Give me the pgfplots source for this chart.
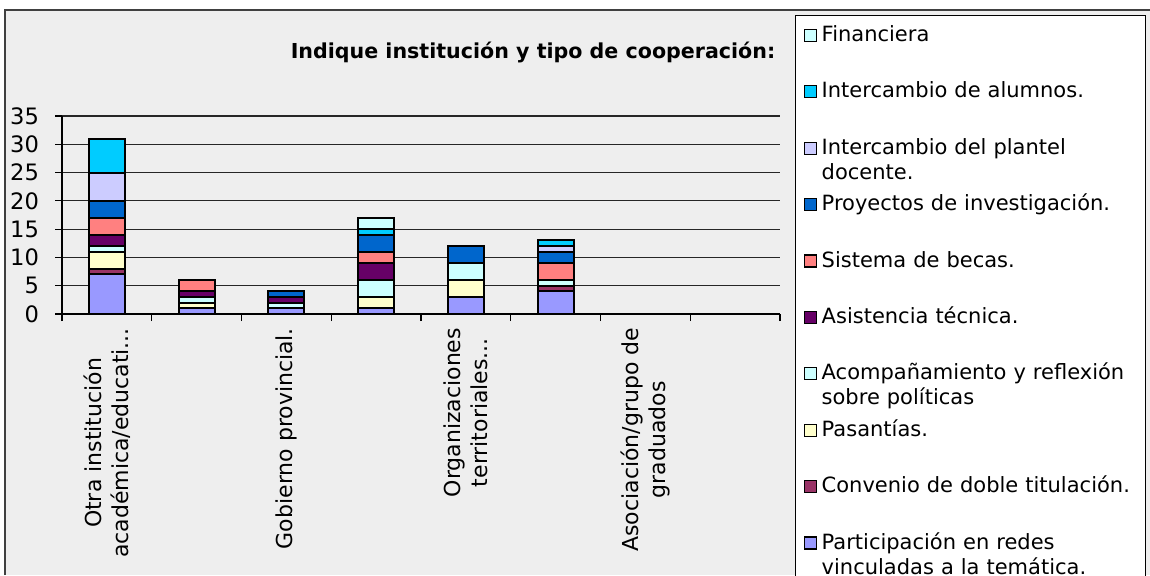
\documentclass[border=0pt]{standalone}
\usepackage{fontspec}
\setmainfont{DejaVu Sans}
\usepackage{pgfplots}
\pgfplotsset{compat=1.18}
\definecolor{bg}{HTML}{EEEEEE}
\definecolor{cPart}{HTML}{9999FF}
\definecolor{cConv}{HTML}{993366}
\definecolor{cPas}{HTML}{FFFFCC}
\definecolor{cAcom}{HTML}{CCFFFF}
\definecolor{cAsis}{HTML}{660066}
\definecolor{cBec}{HTML}{FF8080}
\definecolor{cProy}{HTML}{0066CC}
\definecolor{cPlan}{HTML}{CCCCFF}
\definecolor{cAlum}{HTML}{00CCFF}
\definecolor{cFin}{HTML}{CCFFFF}
\newcommand{\dd}{.\kern0pt.\kern0pt.}
\begin{document}
\begin{tikzpicture}
\fill[white] (0,0) rectangle (575pt,287.5pt);
\fill[bg] (2.5pt,0) rectangle (575pt,282.5pt);
\draw[black!75, line width=0.6pt] (2.5pt,0) -- (2.5pt,282.5pt) -- (575pt,282.5pt);
\node[anchor=base, font=\bfseries\fontsize{10.3}{12}\selectfont] at (266.5pt,258.5pt) {Indique institución y tipo de cooperación:};
\begin{axis}[
  at={(31pt,130.5pt)}, anchor=south west,
  width=359pt, height=99pt, scale only axis,
  xmin=-0.5, xmax=7.5, ymin=0, ymax=35,
  ybar stacked, bar width=18pt,
  axis lines*=left,
  axis line style={black, line width=0.7pt},
  ytick={0,5,10,15,20,25,30,35},
  ymajorgrids, grid style={black!85, line width=0.6pt},
  xtick={-0.5,0.5,1.5,2.5,3.5,4.5,5.5,6.5,7.5},
  xticklabels={{Otra institución\\académica/educati\dd},{},{Gobierno provincial.},{},{Organizaciones\\territoriales\dd},{},{Asociación/grupo de\\graduados},{},{}},
  tick align=outside, major tick length=3.5pt,
  tick style={black, line width=0.6pt},
  /pgf/number format/assume math mode=true,
  yticklabel style={font=\fontsize{11.3}{13}\selectfont, xshift=-4.5pt},
  xticklabel style={xshift=22.4375pt, rotate=90, anchor=east, align=center, font=\fontsize{11}{13.5}\selectfont},
  every axis plot/.append style={draw=black, line width=1pt},
  reverse legend,
  legend image code/.code={\draw[#1, draw=black, line width=0.6pt] (0pt,1.2pt) rectangle (6pt,7.2pt);},
  legend style={at={(1.02089,1.51010)}, anchor=north west, draw=black, line width=0.5pt, fill=white,
    inner xsep=4pt, inner ysep=0pt, row sep=0pt, column sep=2.5pt,
    font=\fontsize{10.5}{12.5}\selectfont,
    nodes={inner sep=0pt, text width=158pt, align=left, text height=13pt, text depth=15.2pt}},
]
\addplot[fill=cPart] coordinates {(0,7) (1,1) (2,1) (3,1) (4,3) (5,4)};
\addlegendentry{Participación en redes\\vinculadas a la temática.}
\addplot[fill=cConv] coordinates {(0,1) (1,0) (2,0) (3,0) (4,0) (5,1)};
\addlegendentry{\mbox{Convenio de doble titulación.}}
\addplot[fill=cPas] coordinates {(0,3) (1,1) (2,0) (3,2) (4,3) (5,0)};
\addlegendentry{Pasantías.}
\addplot[fill=cAcom] coordinates {(0,1) (1,1) (2,1) (3,3) (4,3) (5,1)};
\addlegendentry{\mbox{Acompañamiento y reflexión}\\sobre políticas}
\addplot[fill=cAsis] coordinates {(0,2) (1,1) (2,1) (3,3) (4,0) (5,0)};
\addlegendentry{Asistencia técnica.}
\addplot[fill=cBec] coordinates {(0,3) (1,2) (2,0) (3,2) (4,0) (5,3)};
\addlegendentry{Sistema de becas.}
\addplot[fill=cProy] coordinates {(0,3) (1,0) (2,1) (3,3) (4,3) (5,2)};
\addlegendentry{\mbox{Proyectos de investigación.}}
\addplot[fill=cPlan] coordinates {(0,5) (1,0) (2,0) (3,0) (4,0) (5,1)};
\addlegendentry{Intercambio del plantel\\docente.}
\addplot[fill=cAlum] coordinates {(0,6) (1,0) (2,0) (3,1) (4,0) (5,1)};
\addlegendentry{Intercambio de alumnos.}
\addplot[fill=cFin] coordinates {(0,0) (1,0) (2,0) (3,2) (4,0) (5,0)};
\addlegendentry{Financiera}
\end{axis}
\pgfresetboundingbox
\useasboundingbox (0,0) rectangle (575pt,287.5pt);
\end{tikzpicture}
\end{document}
